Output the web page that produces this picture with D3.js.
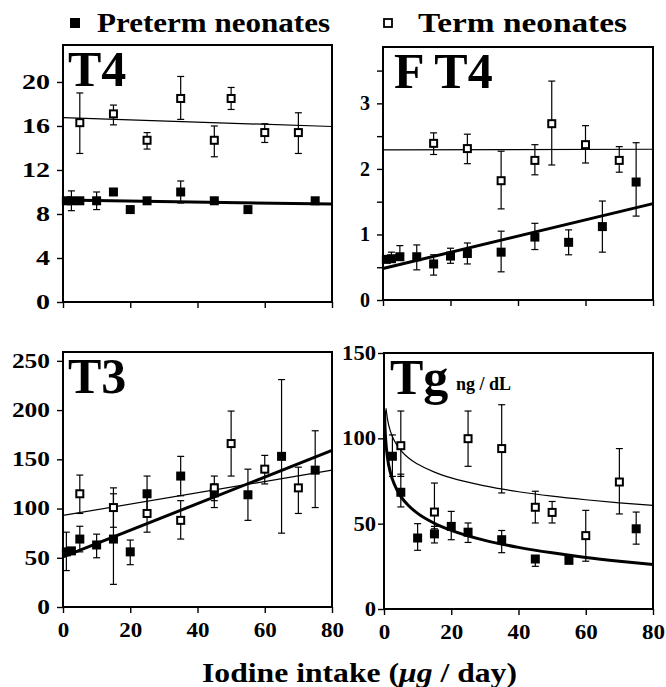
<!DOCTYPE html>
<html>
<head>
<meta charset="utf-8">
<script src="https://cdn.jsdelivr.net/npm/d3@7"></script>
<style>
    body { margin: 0; background: #fff; }
    svg { display: block; }
    svg text { font-family: 'Liberation Serif', 'DejaVu Serif', serif; font-weight: bold; }
</style>
</head>
<body>
<svg width="666" height="687"></svg>
<script>
// x positions of the intake groups
let pretermX = [1, 2.5, 5, 10, 15, 20, 25, 35, 45, 55, 65, 75];
let termX = [5, 15, 25, 35, 45, 50, 60, 70];
let xTicks = [0, 20, 40, 60, 80];

// T4
let t4Preterm = [9.2, 9.2, 9.2, 9.2, 10.0, 8.4, 9.2, 10.0, 9.2, 8.4, null, 9.2];
let t4PretermHi = [null, 10.1, null, 10.0, null, null, null, 11.0, null, null, null, null];
let t4PretermLo = [null, 8.3, null, 8.4, null, null, null, 9.0, null, null, null, null];
let t4Term = [16.3, 17.1, 14.7, 18.5, 14.7, 18.5, 15.4, 15.4];
let t4TermHi = [19.0, 17.9, 15.4, 20.5, 16.0, 19.5, 16.2, 17.2];
let t4TermLo = [13.5, 16.1, 13.9, 16.6, 13.2, 17.5, 14.5, 13.5];
let t4PretermFit = [[0, 9.27], [80, 8.9]];
let t4TermFit = [[0, 16.75], [80, 15.95]];
let t4Ticks = [0, 4, 8, 12, 16, 20];

// free T4
let ft4Preterm = [0.62, 0.63, 0.66, 0.66, 0.55, 0.67, 0.71, 0.73, 0.96, 0.88, 1.12, 1.80];
let ft4PretermHi = [null, 0.73, 0.83, 0.84, 0.69, 0.79, 0.87, 1.05, 1.17, 1.07, 1.51, 2.40];
let ft4PretermLo = [null, null, null, 0.46, 0.38, 0.56, 0.55, 0.43, 0.77, 0.69, 0.73, 1.28];
let ft4TermX = [15, 25, 35, 45, 50, 60, 70];
let ft4Term = [2.39, 2.31, 1.82, 2.13, 2.69, 2.37, 2.13];
let ft4TermHi = [2.55, 2.53, 2.27, 2.37, 3.34, 2.66, 2.34];
let ft4TermLo = [2.22, 2.08, 1.39, 1.91, 2.06, 2.09, 1.95];
let ft4PretermFit = [[0, 0.48], [80, 1.47]];
let ft4TermFit = [[0, 2.29], [80, 2.30]];
let ft4Ticks = [0, 0.5, 1, 1.5, 2, 2.5, 3, 3.5];
let ft4Labels = [0, 1, 2, 3];

// T3
let t3Preterm = [56, 57, 69, 63, 69, 56, 115, 133, 116, 114, 153, 139];
let t3PretermHi = [76, null, 82, 74, 115, 68, 133, 153, 125, 140, 231, 179];
let t3PretermLo = [37, null, 56, 50, 23, 43, 95, 113, 101, 88, 75, 101];
let t3Term = [115, 101, 95, 88, 121, 166, 140, 121];
let t3TermHi = [134, 121, 114, 108, 133, 199, 154, 142];
let t3TermLo = [95, 81, 76, 69, 108, 133, 125, 95];
let t3PretermFit = [[0, 51], [80, 159]];
let t3TermFit = [[0, 93], [80, 139]];
let t3Ticks = [0, 50, 100, 150, 200, 250];

// Tg
let tgPretermX = [2.5, 5, 10, 15, 20, 25, 35, 45, 55, 75];
let tgPreterm = [89.5, 68.4, 41.6, 44, 48.4, 45, 40.6, 29.3, 28.5, 47];
let tgPretermHi = [102, 79, 50, 48.4, 57.2, 50.4, 46, 30.9, 30, 56.8];
let tgPretermLo = [77.7, 59.8, 34.4, 38.7, 40.6, 39, 33, 25, 27, 38];
let tgTerm = [95.7, 56.8, 99.8, 94, 59.6, 56.6, 43, 74.4];
let tgTermHi = [116, 73.8, 116, 119.7, 69, 63, 57.8, 94];
let tgTermLo = [77.7, 47, 83.6, 68, 50.4, 50.4, 28, 55.7];
// fitted curves
let tgPretermFit = [[0.15, 116.5], [0.3, 106.5], [0.5, 99.2], [1, 89.2], [2, 79.2], [3, 73.4], [5, 66],
    [7.5, 60.2], [10, 56], [15, 50.2], [20, 46.1], [30, 40.2], [40, 36.1], [50, 32.9], [60, 30.2], [70, 28], [80, 26.1]];
let tgTermFit = [[0.6, 117.6], [1, 111.7], [2, 103.6], [3, 98.9], [5, 93], [7.5, 88.2], [10, 84.9], [15, 80.2],
    [20, 76.8], [30, 72.1], [40, 68.7], [50, 66.1], [60, 64], [70, 62.2], [80, 60.7]];
let tgTicks = [0, 50, 100, 150];

let zip = function (xs, vs, his, los) {
    return xs.map(function (x, i) {
        return {x: x, v: vs[i], hi: his[i], lo: los[i]};
    }).filter(function (d) { return d.v != null; });
};

// the scanned type is wider than Liberation Serif, so stretch it a bit
let stretch = function (sel, perChar) {
    sel.each(function () {
        let n = this.textContent.length;
        if (n) d3.select(this).attr("textLength", n * perChar).attr("lengthAdjust", "spacingAndGlyphs");
    });
};

let svg = d3.select("svg");

let drawPanel = function (p) {
    let x = d3.scaleLinear().domain([0, 80]).range([p.left, p.right]);
    let y = d3.scaleLinear().domain([0, p.ymax]).range([p.bottom, p.top]);
    let g = svg.append("g");

    // axes
    let ax = g.append("g")
        .attr("transform", "translate(0," + p.bottom + ")")
        .call(d3.axisBottom(x).tickValues(xTicks).tickSize(6).tickSizeOuter(0)
            .tickFormat(p.xLabels ? d3.format("d") : ""));
    let ay = g.append("g")
        .attr("transform", "translate(" + p.left + ",0)")
        .call(d3.axisLeft(y).tickValues(p.ticks).tickSize(6).tickSizeOuter(0).tickPadding(p.pad)
            .tickFormat(function (d) { return p.labels.indexOf(d) >= 0 ? d : ""; }));
    [ax, ay].forEach(function (a) {
        a.attr("font-family", null).attr("font-size", null);
        a.select(".domain").remove();
        a.selectAll("line").attr("stroke", "#000").attr("stroke-width", 1.4);
    });
    ax.selectAll("text").attr("font-size", 22).attr("dy", "0.95em").attr("fill", "#000");
    ay.selectAll("text").attr("font-size", 20).attr("fill", "#000");
    stretch(ax.selectAll("text"), 11.5);
    stretch(ay.selectAll("text"), p.digitW);

    // frame
    g.append("rect")
        .attr("x", p.left).attr("y", p.top)
        .attr("width", p.right - p.left).attr("height", p.bottom - p.top)
        .attr("fill", "none").attr("stroke", "#000").attr("stroke-width", 2);

    // panel name
    g.append("text")
        .attr("x", p.left + p.nameDx).attr("y", p.top + 41)
        .attr("font-size", 50)
        .text(p.name);
    if (p.unit) {
        g.append("text")
            .attr("x", p.left + 72).attr("y", p.top + 37)
            .attr("font-size", 18)
            .text(p.unit);
    }

    let pre = zip(p.preX, p.pre, p.preHi, p.preLo);
    let term = zip(p.termX, p.term, p.termHi, p.termLo);

    // error bars
    let bars = g.append("g").attr("stroke", "#000").attr("stroke-width", 1.2);
    pre.concat(term).forEach(function (d) {
        let top = d.hi == null ? d.v : d.hi;
        let bot = d.lo == null ? d.v : d.lo;
        if (top == bot) return;
        bars.append("line")
            .attr("x1", x(d.x)).attr("x2", x(d.x))
            .attr("y1", y(top)).attr("y2", y(bot));
        [d.hi, d.lo].forEach(function (c) {
            if (c == null) return;
            bars.append("line")
                .attr("x1", x(d.x) - 3.5).attr("x2", x(d.x) + 3.5)
                .attr("y1", y(c)).attr("y2", y(c));
        });
    });

    // fitted lines
    let line = d3.line()
        .x(function (d) { return x(d[0]); })
        .y(function (d) { return y(d[1]); })
        .curve(d3.curveMonotoneX);
    g.append("path").attr("d", line(p.termFit))
        .attr("fill", "none").attr("stroke", "#000").attr("stroke-width", 1.2);
    g.append("path").attr("d", line(p.preFit))
        .attr("fill", "none").attr("stroke", "#000").attr("stroke-width", 3);

    // markers
    g.selectAll(".pre").data(pre).enter().append("rect")
        .attr("class", "pre")
        .attr("x", function (d) { return x(d.x) - 4.5; })
        .attr("y", function (d) { return y(d.v) - 4.5; })
        .attr("width", 9).attr("height", 9)
        .attr("fill", "#000");
    g.selectAll(".term").data(term).enter().append("rect")
        .attr("class", "term")
        .attr("x", function (d) { return x(d.x) - 3.5; })
        .attr("y", function (d) { return y(d.v) - 3.5; })
        .attr("width", 7).attr("height", 7)
        .attr("fill", "#fff").attr("stroke", "#000").attr("stroke-width", 2);
};

drawPanel({
    name: "T4", nameDx: 5, left: 63, right: 332, top: 45, bottom: 302, ymax: 23.36,
    ticks: t4Ticks, labels: t4Ticks, pad: 7, digitW: 14, xLabels: false,
    preX: pretermX, pre: t4Preterm, preHi: t4PretermHi, preLo: t4PretermLo,
    termX: termX, term: t4Term, termHi: t4TermHi, termLo: t4TermLo,
    preFit: t4PretermFit, termFit: t4TermFit
});
drawPanel({
    name: "F T4", nameDx: 11, left: 383, right: 653, top: 47, bottom: 300, ymax: 3.86,
    ticks: ft4Ticks, labels: ft4Labels, pad: 7, digitW: 10, xLabels: false,
    preX: pretermX, pre: ft4Preterm, preHi: ft4PretermHi, preLo: ft4PretermLo,
    termX: ft4TermX, term: ft4Term, termHi: ft4TermHi, termLo: ft4TermLo,
    preFit: ft4PretermFit, termFit: ft4TermFit
});
drawPanel({
    name: "T3", nameDx: 5, left: 63, right: 332, top: 352, bottom: 607, ymax: 259,
    ticks: t3Ticks, labels: t3Ticks, pad: 7, digitW: 12.7, xLabels: true,
    preX: pretermX, pre: t3Preterm, preHi: t3PretermHi, preLo: t3PretermLo,
    termX: termX, term: t3Term, termHi: t3TermHi, termLo: t3TermLo,
    preFit: t3PretermFit, termFit: t3TermFit
});
drawPanel({
    name: "Tg", nameDx: 6, unit: "ng / dL", left: 384, right: 653, top: 353, bottom: 609, ymax: 150,
    ticks: tgTicks, labels: tgTicks, pad: 2, digitW: 11.3, xLabels: true,
    preX: tgPretermX, pre: tgPreterm, preHi: tgPretermHi, preLo: tgPretermLo,
    termX: termX, term: tgTerm, termHi: tgTermHi, termLo: tgTermLo,
    preFit: tgPretermFit, termFit: tgTermFit
});

// legend
svg.append("rect").attr("x", 70).attr("y", 18).attr("width", 10).attr("height", 10).attr("fill", "#000");
svg.append("text").attr("x", 97).attr("y", 32).attr("font-size", 27)
    .attr("textLength", 233).attr("lengthAdjust", "spacingAndGlyphs")
    .text("Preterm neonates");
svg.append("rect").attr("x", 384).attr("y", 19).attr("width", 8).attr("height", 8)
    .attr("fill", "#fff").attr("stroke", "#000").attr("stroke-width", 1.8);
svg.append("text").attr("x", 418).attr("y", 32).attr("font-size", 27)
    .attr("textLength", 209).attr("lengthAdjust", "spacingAndGlyphs")
    .text("Term neonates");

// shared x title
let xt = svg.append("text").attr("x", 202).attr("y", 682)
    .attr("font-size", 28)
    .attr("textLength", 315).attr("lengthAdjust", "spacingAndGlyphs");
xt.append("tspan").text("Iodine intake (");
xt.append("tspan").attr("font-style", "italic").text("\u03bcg");
xt.append("tspan").text(" / day)");
</script>
</body>
</html>
